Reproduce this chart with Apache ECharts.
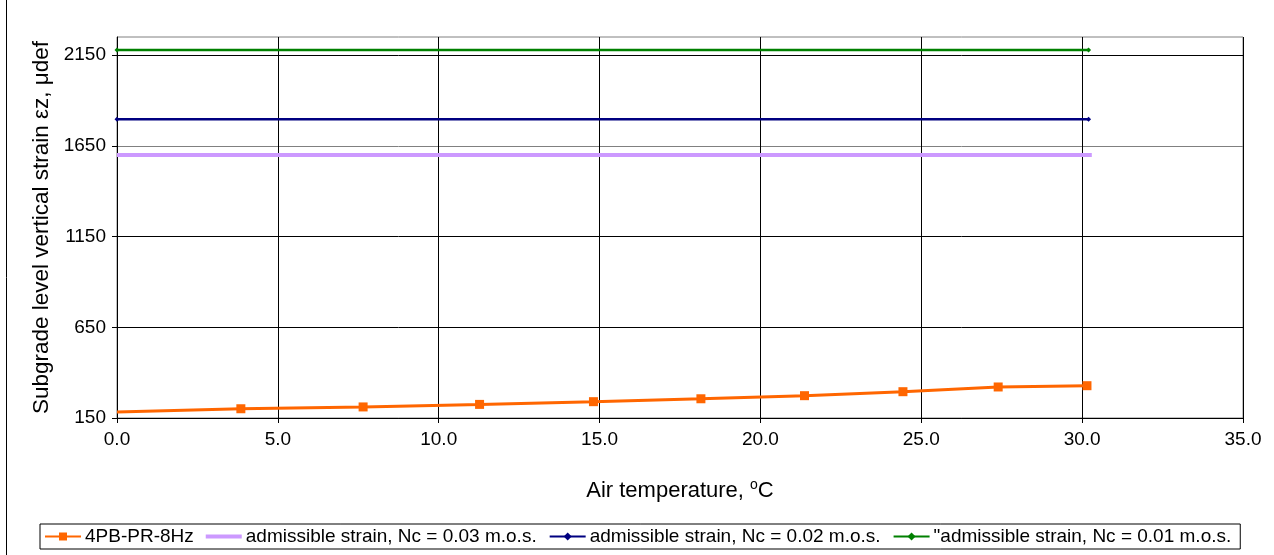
<!DOCTYPE html>
<html>
<head>
<meta charset="utf-8">
<script src="https://cdn.jsdelivr.net/npm/echarts@6/dist/echarts.min.js"></script>
<style>
  html, body { margin: 0; padding: 0; background: #fff; }
  #chart { width: 1274px; height: 555px; }
</style>
</head>
<body>
<div id="chart"></div>
<script>
// Air temperature (°C) and subgrade vertical strain (µdef) for the 4PB-PR-8Hz case
const airTemp = [0, 3.85, 7.65, 11.27, 14.81, 18.15, 21.37, 24.43, 27.39, 30.15];
const strain4PB = [183, 201, 211, 225, 240, 256, 273, 295, 321, 328];

// Admissible strain levels (constant across the temperature range)
const admissibleX = [0, 30.2];
const admissible003 = [1600, 1600];
const admissible002 = [1796, 1796];
const admissible001 = [2178, 2178];

const seriesNames = [
  '4PB-PR-8Hz',
  'admissible strain, Nc = 0.03 m.o.s.',
  'admissible strain, Nc = 0.02 m.o.s.',
  '"admissible strain, Nc = 0.01 m.o.s.'
];

const yTicks = [150, 650, 1150, 1650, 2150];
const xTicks = [0, 5, 10, 15, 20, 25, 30, 35];

const pairs = (xs, ys) => xs.map((x, i) => [x, ys[i]]);

const orangeData = pairs(airTemp, strain4PB).map((p, i) =>
  i === 0 ? { value: p, symbol: 'none' } : { value: p });

const font = 'Liberation Sans, Arial, sans-serif';

const chart = echarts.init(document.getElementById('chart'), null, { renderer: 'canvas' });

chart.setOption({
  animation: false,
  backgroundColor: '#fff',
  textStyle: { fontFamily: font, color: '#000' },
  grid: {
    left: 117, top: 37, right: 31, bottom: 137,
    show: true, borderColor: '#808080', borderWidth: 1, backgroundColor: 'transparent'
  },
  xAxis: {
    type: 'value',
    min: xTicks[0], max: xTicks[xTicks.length - 1], interval: 5,
    name: 'Air temperature, {sup|o}C',
    nameLocation: 'middle',
    nameGap: 60,
    nameTextStyle: {
      fontSize: 22, fontFamily: font, color: '#000',
      rich: { sup: { fontSize: 14, verticalAlign: 'top', padding: [0, 0, 11, 0], fontFamily: font, color: '#000' } }
    },
    axisLine: { show: true, onZero: false, lineStyle: { color: '#000', width: 1 } },
    axisTick: { show: true, inside: false, length: 5, lineStyle: { color: '#000' } },
    axisLabel: {
      fontSize: 19, color: '#000', fontFamily: font, margin: 12,
      formatter: v => v.toFixed(1)
    },
    splitLine: { show: true, lineStyle: { color: '#000', width: 1 } }
  },
  yAxis: {
    type: 'value',
    min: yTicks[0], max: 2250, interval: 500,
    name: 'Subgrade level vertical strain εz, μdef',
    nameLocation: 'middle',
    nameGap: 61,
    nameTextStyle: { fontSize: 22.5, fontFamily: font, color: '#000' },
    axisLine: { show: true, onZero: false, lineStyle: { color: '#000', width: 1 } },
    axisTick: { show: true, inside: false, length: 5, lineStyle: { color: '#000' }, customValues: yTicks },
    axisLabel: {
      fontSize: 19, color: '#000', fontFamily: font, margin: 11,
      customValues: yTicks,
      formatter: v => String(v)
    },
    splitLine: {
      show: true,
      lineStyle: { color: ['#000', '#000', '#000', '#808080', '#000', '#808080'], width: 1 }
    }
  },
  legend: {
    show: true,
    left: 40, top: 524,
    orient: 'horizontal',
    padding: [3, 9, 3, 4],
    borderColor: '#000', borderWidth: 1,
    itemGap: 12, itemWidth: 36, itemHeight: 10,
    textStyle: { fontSize: 19, fontFamily: font, color: '#000', padding: [0, 0, 0, -1] },
    data: [
      { name: seriesNames[0] },
      { name: seriesNames[1], icon: 'path://M0,0L36,0L36,4L0,4Z' },
      { name: seriesNames[2] },
      { name: seriesNames[3] }
    ]
  },
  series: [
    {
      name: seriesNames[0],
      type: 'line',
      data: orangeData,
      symbol: 'rect', symbolSize: 9,
      lineStyle: { color: '#FF6600', width: 3 },
      itemStyle: { color: '#FF6600' },
      z: 5
    },
    {
      name: seriesNames[1],
      type: 'line',
      data: pairs([0, 30.3], admissible003),
      symbol: 'none',
      lineStyle: { color: '#CC99FF', width: 4 },
      itemStyle: { color: '#CC99FF' },
      z: 3
    },
    {
      name: seriesNames[2],
      type: 'line',
      data: pairs(admissibleX, admissible002),
      symbol: 'diamond', symbolSize: 5,
      lineStyle: { color: '#000080', width: 2.5 },
      itemStyle: { color: '#000080' },
      z: 4
    },
    {
      name: seriesNames[3],
      type: 'line',
      data: pairs(admissibleX, admissible001),
      symbol: 'diamond', symbolSize: 5,
      lineStyle: { color: '#008000', width: 2.5 },
      itemStyle: { color: '#008000' },
      z: 4
    }
  ],
  graphic: [
    {
      type: 'line',
      shape: { x1: 6.5, y1: 0, x2: 6.5, y2: 555 },
      style: { stroke: '#000', lineWidth: 1 }
    }
  ]
});
</script>
</body>
</html>
